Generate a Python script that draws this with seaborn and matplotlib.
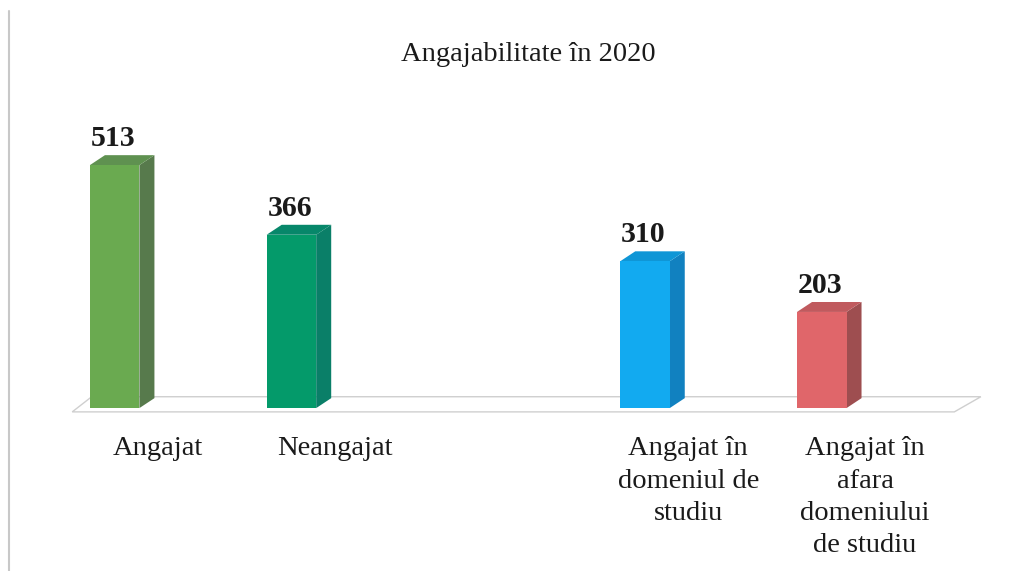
import matplotlib
matplotlib.use("Agg")
import matplotlib.pyplot as plt
import seaborn as sns
from matplotlib.patches import Polygon
from matplotlib.lines import Line2D

# data
categories = ["Angajat", "Neangajat",
              "Angajat în\ndomeniul de\nstudiu",
              "Angajat în\nafara\ndomeniului\nde studiu"]
values = [513, 366, 310, 203]
bar_colors = ["#6aaa50", "#049a6a", "#12aaf0", "#e0666a"]
side_colors = ["#577a4c", "#0a7f68", "#1181c0", "#9e4e50"]
top_colors = ["#5f9150", "#07876a", "#0f96d6", "#c05a5e"]
slot_order = categories[:2] + [" "] + categories[2:]

sns.set_theme(style="white")
plt.rcParams["font.family"] = ["Liberation Serif", "DejaVu Serif"]

fig = plt.figure(figsize=(10.32, 5.71), dpi=100)
ax = fig.add_axes([0.058, 0.277, 0.901, 0.506])

sns.barplot(x=categories, y=values, order=slot_order, hue=categories,
            hue_order=categories, palette=bar_colors, width=0.28,
            dodge=False, legend=False, saturation=1, linewidth=0,
            edgecolor="none", ax=ax)

ax.set_ylim(-10, 600)
ax.set_xlim(-0.31, 4.95)

dx, dy = 0.085, 21  # fake 3D depth

# floor plane
floor = Polygon([(-0.24, -8), (4.75, -8), (4.9, 24), (-0.13, 24)],
                closed=True, facecolor="white", edgecolor="#cfcfcf",
                linewidth=1.0, zorder=0.5)
ax.add_patch(floor)

bars = [p for p in ax.patches if p is not floor and p.get_height() == p.get_height() and p.get_height() > 0]
bars.sort(key=lambda p: p.get_x())
centers = []
for i, p in enumerate(bars):
    x0, w, h = p.get_x(), p.get_width(), p.get_height()
    x1 = x0 + w
    centers.append(x0 + w / 2)
    p.set_zorder(3)
    side = Polygon([(x1, 0), (x1 + dx, dy), (x1 + dx, h + dy), (x1, h)],
                   closed=True, facecolor=side_colors[i], edgecolor="none", zorder=2.5)
    top = Polygon([(x0, h), (x0 + dx, h + dy), (x1 + dx, h + dy), (x1, h)],
                  closed=True, facecolor=top_colors[i], edgecolor="none", zorder=2.5)
    ax.add_patch(side)
    ax.add_patch(top)
    ax.text(x0 + w / 2 - 0.01, h + dy + 6, str(values[i]), ha="center", va="bottom",
            fontsize=21.5, fontweight="bold", color="#1a1a1a")

sns.despine(ax=ax, left=True, bottom=True)
ax.set_yticks([])
ax.set_xlabel("")
ax.set_ylabel("")
# category labels sit a bit to the right of each bar, as in the original
ax.set_xticks([c + 0.245 for c in centers], categories)
ax.tick_params(axis="x", length=0, pad=17, labelsize=20.5, labelcolor="#1a1a1a")
for lab in ax.get_xticklabels():
    lab.set_linespacing(1.38)
    lab.set_multialignment("center")

fig.text(0.512, 0.905, "Angajabilitate în 2020", ha="center", va="center",
         fontsize=20.5, color="#1a1a1a")

# page edge line on the left
fig.add_artist(Line2D([0.009, 0.009], [0.0, 0.98], color="#c8c8c8", linewidth=1.5))

fig.savefig("out.png", dpi=100, facecolor="white")
